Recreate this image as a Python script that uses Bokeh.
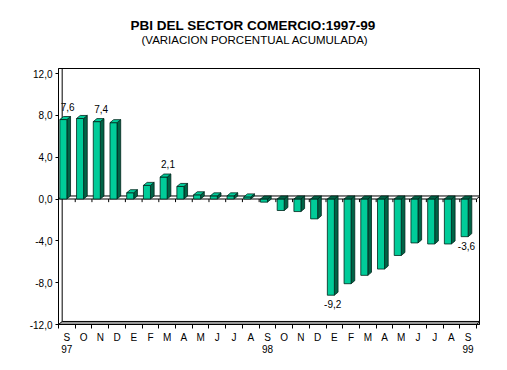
from bokeh.plotting import figure
from bokeh.models import FixedTicker, LinearAxis, Title, Range1d, ColumnDataSource
from bokeh.core.properties import value
from bokeh.embed import file_html
from bokeh.resources import INLINE

# ---- data ----
months = ["S", "O", "N", "D", "E", "F", "M", "A", "M", "J", "J", "A",
          "S", "O", "N", "D", "E", "F", "M", "A", "M", "J", "J", "A", "S"]
year_pos = [0, 12, 24]
year_labels = ["97", "98", "99"]
values = [7.6, 7.7, 7.4, 7.3, 0.6, 1.3, 2.1, 1.2, 0.4, 0.3, 0.3, 0.2,
          -0.3, -1.1, -1.2, -1.9, -9.2, -8.1, -7.3, -6.7, -5.4, -4.2, -4.3, -4.3, -3.6]
label_idx = [0, 2, 6, 16, 24]
label_txt = ["7,6", "7,4", "2,1", "-9,2", "-3,6"]
y_ticks = [12, 8, 4, 0, -4, -8, -12]
y_tick_labels = ["12,0", "8,0", "4,0", "0,0", "-4,0", "-8,0", "-12,0"]

FONT = "Liberation Sans"
FRONT = "#00cc99"
SIDE = "#006346"
EDGE = "#00261c"
DX, DY = 0.22, 0.29
W = 0.42

n = len(values)
x0, x1 = -0.5, n - 0.5 + 0.18
y0, y1 = -12, 12.48

p = figure(width=498, height=362, output_backend="svg", toolbar_location=None,
           x_range=Range1d(x0, x1), y_range=Range1d(y0, y1),
           min_border_left=58, min_border_right=19, min_border_top=68, min_border_bottom=38)
p.xaxis.visible = False
p.yaxis.visible = False
p.xgrid.visible = False
p.ygrid.visible = False
p.outline_line_color = "black"
p.outline_line_width = 1
p.background_fill_color = "white"
p.border_fill_color = "white"

# titles (spacer, subtitle, main title stacked upward from the frame)
spacer = Title(text=" ", text_font=FONT, text_font_size="1px", standoff=20)
sub = Title(text="(VARIACION PORCENTUAL ACUMULADA)", align="left", offset=83,
            text_font=FONT, text_font_size="11.5px", text_font_style="normal",
            text_color="black", standoff=0)
main = Title(text="PBI DEL SECTOR COMERCIO:1997-99", align="left", offset=72,
             text_font=FONT, text_font_size="13.5px", text_font_style="bold",
             text_color="black", standoff=-3)
p.add_layout(spacer, "above")
p.add_layout(sub, "above")
p.add_layout(main, "above")

# y axis
yax = LinearAxis(ticker=FixedTicker(ticks=y_ticks, minor_ticks=[]))
yax.major_label_overrides = {t: l for t, l in zip(y_ticks, y_tick_labels)}
yax.major_tick_out = 3
yax.major_tick_in = 0
yax.major_tick_line_color = "black"
yax.axis_line_color = "black"
yax.major_label_standoff = 3
yax.major_label_text_font = FONT
yax.major_label_text_font_size = "10px"
yax.major_label_text_color = "black"
p.add_layout(yax, "left")

# x axis (months)
xax = LinearAxis(ticker=FixedTicker(ticks=list(range(n)),
                                    minor_ticks=[i - 0.5 for i in range(n + 1)]))
xax.major_label_overrides = {i: m for i, m in enumerate(months)}
xax.major_tick_out = 0
xax.major_tick_in = 0
xax.minor_tick_out = 4
xax.minor_tick_in = 0
xax.minor_tick_line_color = "black"
xax.axis_line_color = "black"
xax.major_label_standoff = 3
xax.major_label_text_font = FONT
xax.major_label_text_font_size = "10px"
xax.major_label_text_color = "black"
p.add_layout(xax, "below")

# x axis (years)
yrax = LinearAxis(ticker=FixedTicker(ticks=year_pos, minor_ticks=[]))
yrax.major_label_overrides = {t: l for t, l in zip(year_pos, year_labels)}
yrax.axis_line_color = None
yrax.major_tick_line_color = None
yrax.minor_tick_line_color = None
yrax.major_tick_out = 0
yrax.major_tick_in = 0
yrax.major_label_standoff = -1
yrax.major_label_text_font = FONT
yrax.major_label_text_font_size = "10px"
yrax.major_label_text_color = "black"
p.add_layout(yrax, "below")

# 3D walls: bottom floor, left wall line, zero floor
p.patch([x0, n - 0.5, n - 0.5 + DX, x0 + DX], [y0, y0, y0 + DY, y0 + DY],
        fill_color="#9a9a9a", line_color="black", line_width=1)
p.segment(x0=[x0 + DX], y0=[y0 + DY], x1=[x0 + DX], y1=[y1], line_color="black", line_width=1)
p.patch([x0, n - 0.5, n - 0.5 + DX, x0 + DX], [0, 0, DY, DY],
        fill_color="white", line_color="black", line_width=1)
bounds = [i - 0.5 for i in range(1, n + 1)]
p.segment(x0=bounds, y0=[0] * len(bounds), x1=bounds, y1=[-0.3] * len(bounds),
          line_color="black", line_width=1)

# bars
xs = list(range(n))
front_src = ColumnDataSource(dict(
    left=[c - W for c in xs], right=xs,
    bottom=[min(0, v) for v in values], top=[max(0, v) for v in values]))
side_x, side_y, top_x, top_y, top_c = [], [], [], [], []
for c, v in zip(xs, values):
    side_x.append([c, c + DX, c + DX, c])
    side_y.append([0, DY, v + DY, v])
    t = max(v, 0)
    top_x.append([c - W, c - W + DX, c + DX, c])
    top_y.append([t, t + DY, t + DY, t])
    top_c.append(FRONT if v > 0 else SIDE)
p.patches(side_x, side_y, fill_color=SIDE, line_color=EDGE, line_width=0.8)
p.quad(left="left", right="right", bottom="bottom", top="top", source=front_src,
       fill_color=FRONT, line_color=EDGE, line_width=0.8)
p.patches(top_x, top_y, fill_color=top_c, line_color=EDGE, line_width=0.8)

# value labels
pos_i = [i for i in label_idx if values[i] > 0]
neg_i = [i for i in label_idx if values[i] < 0]
txt = dict(zip(label_idx, label_txt))
p.text(x=[i + 0.05 for i in pos_i], y=[values[i] for i in pos_i], text=[txt[i] for i in pos_i],
       text_align="center", text_baseline="bottom", y_offset=-9,
       text_font=value(FONT), text_font_size="10px", text_color="black")
p.text(x=[i - 0.1 for i in neg_i], y=[values[i] for i in neg_i], text=[txt[i] for i in neg_i],
       text_align="center", text_baseline="top", y_offset=5,
       text_font=value(FONT), text_font_size="10px", text_color="black")

open("out.html", "w").write(file_html(p, INLINE))
